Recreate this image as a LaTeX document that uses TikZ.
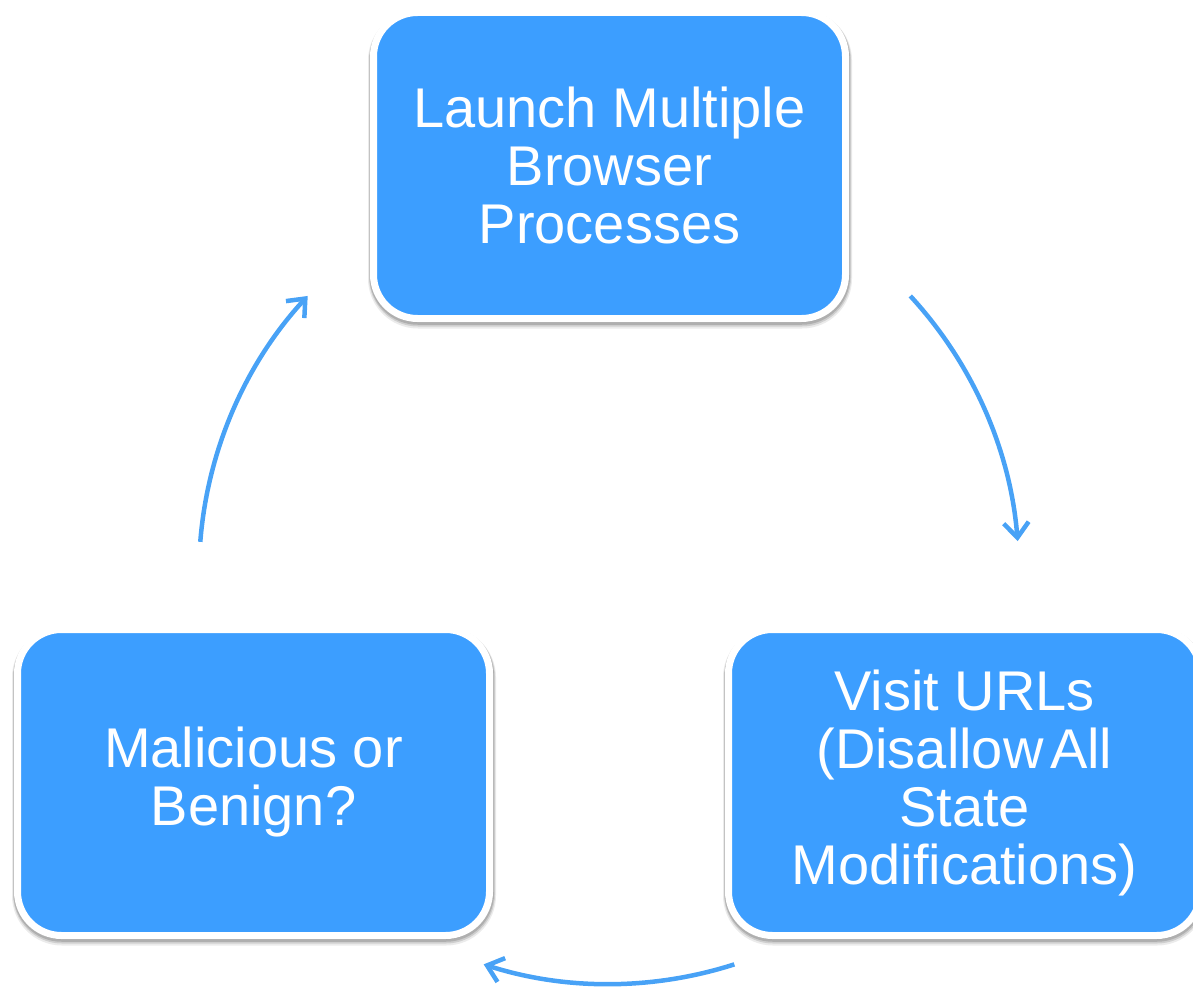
\documentclass[tikz,border=0pt]{standalone}
\usepackage{fontspec}
\setmainfont{Liberation Sans}
\usetikzlibrary{arrows.meta,shadows,calc}
\definecolor{boxblue}{RGB}{60,158,255}
\definecolor{arrblue}{RGB}{72,162,246}
\tikzset{
  stepbox/.style={
    rounded corners=44pt, fill=boxblue, draw=white, line width=7pt,
    minimum width=472pt, minimum height=306pt, inner sep=0pt,
    text=white, align=center,
    font=\fontsize{56}{58}\selectfont,
    general shadow={shadow xshift=0.5pt, shadow yshift=-4pt, opacity=0.08, fill=black, draw=black, line width=12pt},
    general shadow={shadow xshift=0.5pt, shadow yshift=-3pt, opacity=0.12, fill=black, draw=black, line width=10pt},
    general shadow={shadow xshift=0.3pt, shadow yshift=-2pt, opacity=0.15, fill=black, draw=black, line width=8.5pt}
  },
  arr/.style={draw=arrblue, line width=4.5pt, -{Straight Barb[length=15pt,width=25pt]}}
}
\begin{document}
\begin{tikzpicture}[x=1pt,y=1pt]
\path[use as bounding box] (0,0) rectangle (1193,-990);
\clip (0,0) rectangle (1193,-990);
\node[stepbox] (launch) at (609.5,-165.5) {Launch Multiple\\Browser\\Processes};
\node[stepbox] (visit) at (964.5,-782.5) {Visit URLs\\(Disallow\hspace{0.12em}All\\State\\Modifications)};
\node[stepbox] (mal) at (253.5,-782.5) {Malicious or\\Benign?};
\coordinate (O) at (609,-574);
\draw[arr] ($(O)+(42.7:410)$) arc[start angle=42.7, end angle=4.6, radius=410pt];
\draw[arr] ($(O)+(-72.2:410)$) arc[start angle=-72.2, end angle=-107.8, radius=410pt];
\draw[arr] ($(O)+(175.5:410)$) arc[start angle=175.5, end angle=137.3, radius=410pt];
\end{tikzpicture}
\end{document}
